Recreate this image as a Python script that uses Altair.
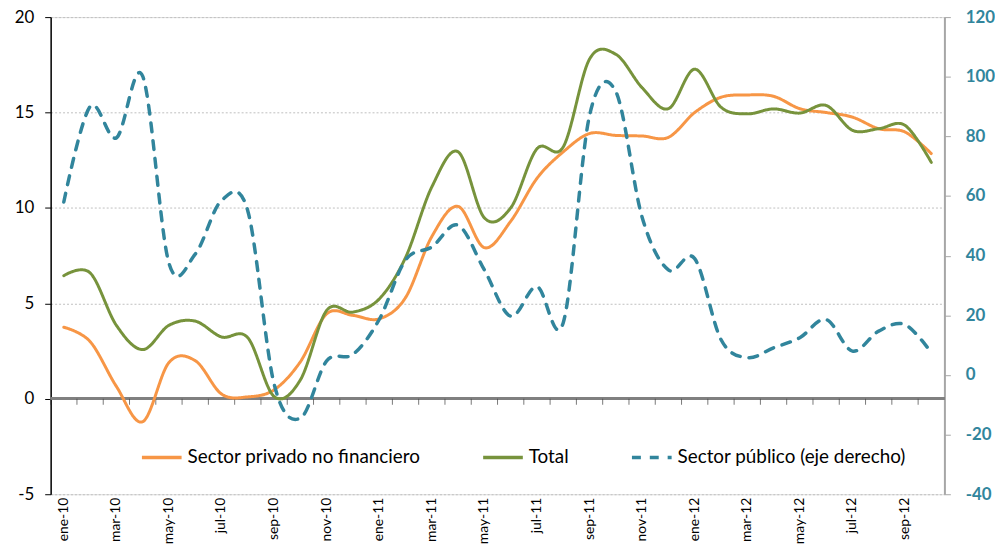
import altair as alt
import pandas as pd

months = ["ene-10", "feb-10", "mar-10", "abr-10", "may-10", "jun-10", "jul-10", "ago-10",
          "sep-10", "oct-10", "nov-10", "dic-10", "ene-11", "feb-11", "mar-11", "abr-11",
          "may-11", "jun-11", "jul-11", "ago-11", "sep-11", "oct-11", "nov-11", "dic-11",
          "ene-12", "feb-12", "mar-12", "abr-12", "may-12", "jun-12", "jul-12", "ago-12",
          "sep-12", "oct-12"]

privado = [3.75, 3.0, 0.65, -1.2, 1.9, 2.0, 0.25, 0.1, 0.47, 1.94, 4.45, 4.37, 4.19, 5.3,
           8.5, 10.08, 7.92, 9.3, 11.55, 12.94, 13.9, 13.8, 13.77, 13.7, 15.0, 15.8, 15.92,
           15.85, 15.2, 15.0, 14.76, 14.15, 13.98, 12.85]

total = [6.45, 6.6, 3.85, 2.58, 3.85, 4.07, 3.24, 3.2, 0.12, 0.99, 4.63, 4.54, 5.23, 7.4,
         11.1, 12.94, 9.48, 10.0, 13.1, 13.2, 17.8, 18.05, 16.3, 15.2, 17.27, 15.28, 14.93,
         15.19, 14.97, 15.37, 14.07, 14.15, 14.33, 12.39]

publico = [58, 90, 79.5, 100.2, 37.5, 40.5, 58.5, 55, -3, -14.5, 4.7, 6.9, 18.6, 38.5,
           42.9, 50.2, 35.2, 19.7, 29.6, 17.5, 87, 95, 52.9, 35.2, 39, 11.9, 5.8, 9.1,
           12.5, 18.6, 8.0, 14.7, 16.9, 7.5]

series = ["Sector privado no financiero", "Total", "Sector público (eje derecho)"]
colors = ["#F79646", "#77933C", "#31859C"]
dashes = [[1, 0], [1, 0], [9, 9]]

left_ticks = [-5, 0, 5, 10, 15, 20]
right_ticks = [-40, -20, 0, 20, 40, 60, 80, 100, 120]

FONT = "Lato"


def legend_def():
    return alt.Legend(title=None, orient="none", legendX=90, legendY=422,
                      direction="horizontal", symbolType="stroke",
                      symbolSize=1600, symbolStrokeWidth=3.5,
                      labelFontSize=19, labelFont=FONT, labelLimit=0,
                      labelColor="#000000", columnPadding=56, labelOffset=4)


df_priv = pd.DataFrame({"mes": months, "valor": privado, "serie": series[0]})
df_tot = pd.DataFrame({"mes": months, "valor": total, "serie": series[1]})
df_pub = pd.DataFrame({"mes": months, "valor": publico, "serie": series[2]})

x_enc = alt.X("mes:N", sort=months,
              scale=alt.Scale(type="band", paddingInner=0, paddingOuter=0),
              axis=alt.Axis(values=months[::2], labelAngle=-90, labelFontSize=14,
                            labelFont=FONT, labelColor="#000000", ticks=False,
                            domain=False, labelPadding=3, title=None))

color_enc = alt.Color("serie:N", scale=alt.Scale(domain=series, range=colors),
                      legend=legend_def())
dash_enc = alt.StrokeDash("serie:N", scale=alt.Scale(domain=series, range=dashes),
                          legend=legend_def())

y_left_scale = alt.Scale(domain=[-5, 20], nice=False, zero=False)
y_left_axis = alt.Axis(values=left_ticks, title=None, orient="left", labelFontSize=17,
                       labelFont=FONT, labelColor="#000000", domainColor="#000000",
                       domainWidth=1.5, tickColor="#000000", tickSize=6, labelPadding=11,
                       labelExpr="'' + datum.value",
                       grid=True, gridColor="#BFBFBF", gridDash=[2, 2], gridWidth=1)

line_priv = alt.Chart(df_priv).mark_line(interpolate="cardinal", strokeWidth=3,
                                         strokeCap="round").encode(
    x=x_enc,
    y=alt.Y("valor:Q", scale=y_left_scale, axis=y_left_axis),
    color=color_enc, strokeDash=dash_enc)

line_tot = alt.Chart(df_tot).mark_line(interpolate="cardinal", strokeWidth=3,
                                       strokeCap="round").encode(
    x=x_enc,
    y=alt.Y("valor:Q", scale=y_left_scale, axis=y_left_axis),
    color=color_enc, strokeDash=dash_enc)

zero_rule = alt.Chart(df_priv).mark_rule(color="#808080", strokeWidth=2).encode(
    y=alt.datum(0))

zero_ticks = alt.Chart(df_priv).mark_tick(orient="vertical", size=6, thickness=1,
                                          color="#404040", yOffset=3).encode(
    x=alt.X("mes:N", sort=months, bandPosition=0),
    y=alt.datum(0))

left = alt.layer(zero_rule, zero_ticks, line_priv, line_tot)

line_pub = alt.Chart(df_pub).mark_line(interpolate="cardinal", strokeWidth=3.5,
                                       strokeCap="round").encode(
    x=x_enc,
    y=alt.Y("valor:Q", scale=alt.Scale(domain=[-40, 120], nice=False, zero=False),
            axis=alt.Axis(values=right_ticks, title=None, orient="right", labelFontSize=17,
                          labelFont=FONT, labelColor="#31859C", labelFontWeight="bold",
                          labelExpr="'' + datum.value",
                          domainColor="#A6A6A6", domainWidth=2, tickColor="#A6A6A6",
                          tickSize=6, labelPadding=15, grid=False)),
    color=color_enc, strokeDash=dash_enc)

chart = alt.layer(left, line_pub).resolve_scale(y="independent").properties(
    width=901, height=481,
    autosize=alt.AutoSizeParams(type="none"),
    padding={"left": 43, "top": 7, "right": 51, "bottom": 48},
).configure_view(stroke="#A6A6A6", strokeWidth=2).configure(background="white")

chart.save("out.html", embed_options={"renderer": "svg", "actions": False})
